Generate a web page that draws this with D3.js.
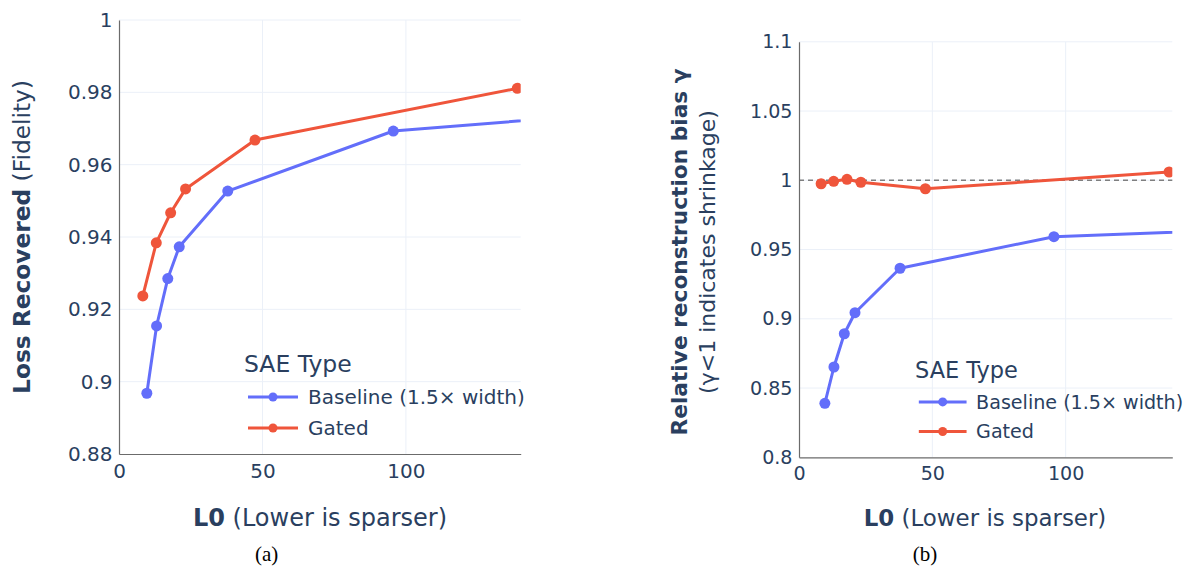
<!DOCTYPE html>
<html>
<head>
<meta charset="utf-8">
<script src="https://cdn.jsdelivr.net/npm/d3@7"></script>
<style>
  body { margin: 0; background: #fff; }
  svg { display: block; }
</style>
</head>
<body>
<svg id="fig" width="1188" height="567"></svg>
<script>
// ---- data -------------------------------------------------------------
const seriesNames = ["Baseline (1.5× width)", "Gated"];
const seriesColors = ["#636EFA", "#EF553B"];

const baselineL0 = [9.7, 13.1, 17.0, 21.0, 37.9, 95.6, 190];
const gatedL0    = [8.3, 13.0, 18.0, 23.2, 47.4, 138.8];

const baselineLossRecovered = [0.8968, 0.9154, 0.9285, 0.9373, 0.9527, 0.9693, 0.9753];
const gatedLossRecovered    = [0.9237, 0.9384, 0.9467, 0.9533, 0.9668, 0.9811];

const baselineGamma = [0.8390, 0.8652, 0.8892, 0.9044, 0.9365, 0.9593, 0.9661];
const gatedGamma    = [0.9975, 0.9993, 1.0007, 0.9986, 0.9939, 1.0060];

const xTicks = [0, 50, 100];
const xTickLabels = ["0", "50", "100"];
const lossTicks = [0.88, 0.90, 0.92, 0.94, 0.96, 0.98, 1.00];
const lossTickLabels = ["0.88", "0.9", "0.92", "0.94", "0.96", "0.98", "1"];
const gammaTicks = [0.80, 0.85, 0.90, 0.95, 1.00, 1.05, 1.10];
const gammaTickLabels = ["0.8", "0.85", "0.9", "0.95", "1", "1.05", "1.1"];

// ---- styling ----------------------------------------------------------
const FONT = "'DejaVu Sans', Verdana, sans-serif";
const TEXT = "#2a3f5f";
const GRID = "#EBF0F8";
const AXIS = "#6b6b6b";

const svg = d3.select("#fig");

function zip(xs, ys) { return xs.map((x, i) => ({ x, y: ys[i] })); }

function drawPanel(cfg) {
  const s = cfg.scale;
  const x = d3.scaleLinear().domain([0, 140]).range([cfg.left, cfg.right]);
  const y = d3.scaleLinear().domain(cfg.yDomain).range([cfg.bottom, cfg.top]);
  const g = svg.append("g");

  // grid
  g.append("g").selectAll("line").data(xTicks.filter(d => d > 0)).join("line")
    .attr("x1", d => x(d)).attr("x2", d => x(d))
    .attr("y1", cfg.top).attr("y2", cfg.bottom)
    .attr("stroke", GRID).attr("stroke-width", 1);
  g.append("g").selectAll("line").data(cfg.yTicks.slice(1)).join("line")
    .attr("x1", cfg.left).attr("x2", cfg.right)
    .attr("y1", d => y(d)).attr("y2", d => y(d))
    .attr("stroke", GRID).attr("stroke-width", 1);

  // reference line
  if (cfg.refLine !== undefined) {
    g.append("line")
      .attr("x1", cfg.left).attr("x2", cfg.right)
      .attr("y1", y(cfg.refLine)).attr("y2", y(cfg.refLine))
      .attr("stroke", "#7f7f7f").attr("stroke-width", 1.5)
      .attr("stroke-dasharray", "5,4");
  }

  // axes
  const xAxis = d3.axisBottom(x).tickValues(xTicks)
    .tickFormat((d, i) => xTickLabels[i]).tickSize(0).tickPadding(10 * s);
  const yAxis = d3.axisLeft(y).tickValues(cfg.yTicks)
    .tickFormat((d, i) => cfg.yTickLabels[i]).tickSize(0).tickPadding(6.5);

  const gx = g.append("g").attr("transform", `translate(0,${cfg.bottom})`).call(xAxis);
  const gy = g.append("g").attr("transform", `translate(${cfg.left},0)`).call(yAxis);
  [gx, gy].forEach(a => {
    a.select(".domain").attr("stroke", AXIS).attr("stroke-width", 1.2);
    a.selectAll("text").attr("font-family", FONT).attr("font-size", 20 * s).attr("fill", TEXT);
  });

  // clip
  const clipId = "clip-" + cfg.id;
  svg.append("clipPath").attr("id", clipId).append("rect")
    .attr("x", cfg.left).attr("y", cfg.top - 8)
    .attr("width", cfg.right - cfg.left).attr("height", cfg.bottom - cfg.top + 8);

  const line = d3.line().x(d => x(d.x)).y(d => y(d.y));
  const plot = g.append("g").attr("clip-path", `url(#${clipId})`);
  cfg.series.forEach((ser, i) => {
    plot.append("path").datum(ser)
      .attr("d", line).attr("fill", "none")
      .attr("stroke", seriesColors[i]).attr("stroke-width", 3)
      .attr("stroke-linejoin", "round");
    plot.selectAll(null).data(ser).join("circle")
      .attr("cx", d => x(d.x)).attr("cy", d => y(d.y)).attr("r", 5.5)
      .attr("fill", seriesColors[i]);
  });

  // legend
  const lg = g.append("g").attr("transform", `translate(${cfg.legend[0]},${cfg.legend[1]})`);
  lg.append("text").attr("x", 0).attr("y", 0).text("SAE Type")
    .attr("font-family", FONT).attr("font-size", 23.5 * s).attr("fill", TEXT);
  seriesNames.forEach((name, i) => {
    const yy = (25 + i * 31) * s;
    lg.append("line").attr("x1", 4 * s).attr("x2", 54 * s).attr("y1", yy).attr("y2", yy)
      .attr("stroke", seriesColors[i]).attr("stroke-width", 3);
    lg.append("circle").attr("cx", 29 * s).attr("cy", yy).attr("r", 4.5).attr("fill", seriesColors[i]);
    lg.append("text").attr("x", 64 * s).attr("y", yy + 7 * s).text(name)
      .attr("font-family", FONT).attr("font-size", 20 * s).attr("fill", TEXT);
  });

  // x title
  const xt = g.append("text")
    .attr("x", cfg.xTitle[0]).attr("y", cfg.xTitle[1])
    .attr("text-anchor", "middle")
    .attr("font-family", FONT).attr("font-size", 24 * s).attr("fill", TEXT);
  xt.append("tspan").attr("font-weight", "bold").text("L0");
  xt.append("tspan").text("\u00A0(Lower is sparser)");

  // caption
  svg.append("text")
    .attr("x", cfg.caption).attr("y", 561).attr("text-anchor", "middle")
    .attr("font-family", "'Liberation Serif', 'Times New Roman', serif")
    .attr("font-size", 21).attr("fill", "#000").text(cfg.captionText);

  return { x, y, g };
}

// ---- panel (a): loss recovered -----------------------------------------
drawPanel({
  id: "a", scale: 1, left: 119, right: 520.7, top: 20, bottom: 454,
  yDomain: [0.88, 1.0], yTicks: lossTicks, yTickLabels: lossTickLabels,
  series: [zip(baselineL0, baselineLossRecovered), zip(gatedL0, gatedLossRecovered)],
  legend: [244, 372], xTitle: [320, 526], caption: 266.7, captionText: "(a)"
});
{
  const t = svg.append("text")
    .attr("transform", `translate(30,${(20 + 454) / 2}) rotate(-90)`)
    .attr("text-anchor", "middle")
    .attr("font-family", FONT).attr("font-size", 23.3).attr("fill", TEXT);
  t.append("tspan").attr("font-weight", "bold").text("Loss Recovered");
  t.append("tspan").text("\u00A0(Fidelity)");
}

// ---- panel (b): relative reconstruction bias ---------------------------
drawPanel({
  id: "b", scale: 0.955, left: 799, right: 1172.3, top: 41.8, bottom: 457.3,
  yDomain: [0.8, 1.1], yTicks: gammaTicks, yTickLabels: gammaTickLabels,
  series: [zip(baselineL0, baselineGamma), zip(gatedL0, gatedGamma)],
  refLine: 1.0,
  legend: [915, 378], xTitle: [985, 526], caption: 925, captionText: "(b)"
});
{
  const cy = 252;
  svg.append("text")
    .attr("transform", `translate(687,${cy}) rotate(-90)`)
    .attr("text-anchor", "middle")
    .attr("font-family", FONT).attr("font-size", 21.7).attr("font-weight", "bold")
    .attr("fill", TEXT).text("Relative reconstruction bias γ");
  svg.append("text")
    .attr("transform", `translate(715,${cy}) rotate(-90)`)
    .attr("text-anchor", "middle")
    .attr("font-family", FONT).attr("font-size", 22)
    .attr("fill", TEXT).text("(γ<1 indicates shrinkage)");
}
</script>
</body>
</html>
